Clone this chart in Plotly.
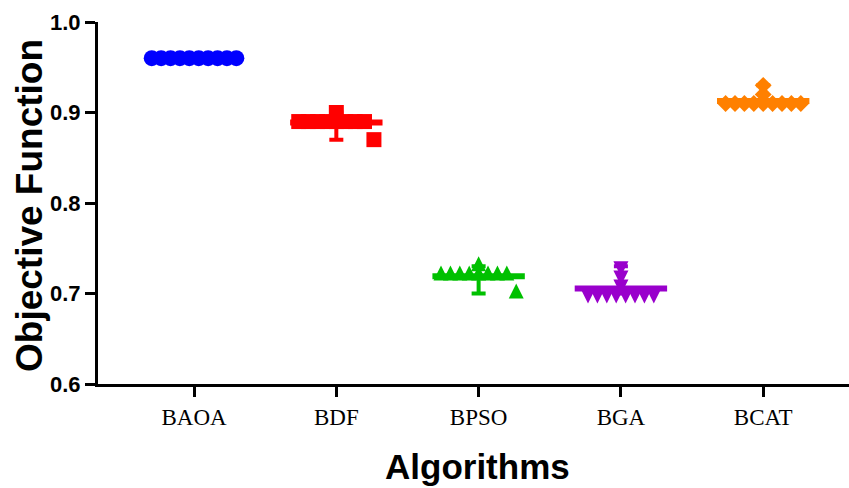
import plotly.graph_objects as go
import numpy as np

# ---- data ----
algorithms = ["BAOA", "BDF", "BPSO", "BGA", "BCAT"]
baoa = [0.96] * 10
bdf = [0.89] * 8 + [0.90, 0.87]
bpso = [0.72] * 8 + [0.73, 0.70]
bga = [0.70] * 8 + [0.73, 0.72, 0.71]
bcat = [0.91] * 9 + [0.93, 0.92]
series = [baoa, bdf, bpso, bga, bcat]
y_ticks = [0.6, 0.7, 0.8, 0.9, 1.0]
y_tick_labels = ["0.6", "0.7", "0.8", "0.9", "1.0"]

colors = ["#0000FF", "#FF0000", "#00C000", "#9900CC", "#FF8000"]
# arrow symbols (tip at anchor) shifted by standoff so the triangle is centred
symbols = ["circle", "square", "arrow-down", "arrow-down", "diamond"]
angles = [0, 0, 180, 0, 0]
sizes = [16, 15, 15, 15, 13]
standoffs = [0, 0, 10, 10, 0]

W, H = 849, 488
ML, MR, MT, MB = 98, 0, 22, 104
x_range = [-0.675, 4.603]
px_per_unit = (W - ML - MR) / (x_range[1] - x_range[0])
slot_px = 9.4


def swarm(vals):
    """Spread equal values horizontally; lone values just below the main row join its right end."""
    vals = np.asarray(vals)
    uniq, counts = np.unique(vals, return_counts=True)
    mode = uniq[np.argmax(counts)]
    row = [i for i, v in enumerate(vals) if v == mode]
    extra = [i for i, v in enumerate(vals) if v < mode and mode - v <= 0.025]
    row_idx = row + extra
    offs = np.zeros(len(vals))
    n = len(row_idx)
    for k, i in enumerate(row_idx):
        offs[i] = (k - (n - 1) / 2) * slot_px
    for u in uniq:
        idx = [i for i, v in enumerate(vals) if v == u and i not in row_idx]
        m = len(idx)
        for k, i in enumerate(idx):
            offs[i] = (k - (m - 1) / 2) * slot_px
    return offs / px_per_unit


fig = go.Figure()
for gi, vals in enumerate(series):
    vals = np.asarray(vals)
    mean = float(vals.mean())
    fig.add_trace(go.Scatter(
        x=[gi], y=[mean], mode="markers",
        marker=dict(symbol="line-ew", size=66, color=colors[gi],
                    line=dict(color=colors[gi], width=6)),
        error_y=dict(type="data", symmetric=False,
                     array=[vals.max() - mean], arrayminus=[mean - vals.min()],
                     color=colors[gi], thickness=4, width=7),
        showlegend=False, cliponaxis=False, hoverinfo="skip"))
    fig.add_trace(go.Scatter(
        x=gi + swarm(vals), y=vals, mode="markers",
        marker=dict(symbol=symbols[gi], size=sizes[gi], color=colors[gi],
                    angle=angles[gi], standoff=standoffs[gi], line=dict(width=0)),
        showlegend=False, cliponaxis=False, name=algorithms[gi]))

fig.update_layout(
    width=W, height=H,
    margin=dict(l=ML, r=MR, t=MT, b=MB),
    plot_bgcolor="white", paper_bgcolor="white",
    xaxis=dict(range=x_range, tickvals=list(range(len(algorithms))), ticktext=algorithms,
               showline=True, linewidth=3, linecolor="black", ticks="outside",
               ticklen=10, tickwidth=3, tickcolor="black", showgrid=False, zeroline=False,
               tickfont=dict(family="Liberation Serif", size=23, color="black")),
    yaxis=dict(range=[0.6, 1.0], tickvals=y_ticks, ticktext=y_tick_labels,
               showline=True, linewidth=3, linecolor="black", ticks="outside",
               ticklen=10, tickwidth=3, tickcolor="black", showgrid=False, zeroline=False,
               tickfont=dict(family="Liberation Sans", size=22, color="black", weight="bold")),
    annotations=[
        dict(text="<b>Objective Function</b>", xref="paper", yref="paper",
             x=(29 - ML) / (W - ML - MR), y=(H - MB - 206) / (H - MB - MT),
             textangle=-90, showarrow=False, xanchor="center", yanchor="middle",
             font=dict(family="Liberation Sans", size=37, color="black")),
        dict(text="<b>Algorithms</b>", xref="paper", yref="paper",
             x=(477 - ML) / (W - ML - MR), y=(H - MB - 467) / (H - MB - MT),
             showarrow=False, xanchor="center", yanchor="middle",
             font=dict(family="Liberation Sans", size=35, color="black")),
    ],
)

fig.write_html("out.html")
